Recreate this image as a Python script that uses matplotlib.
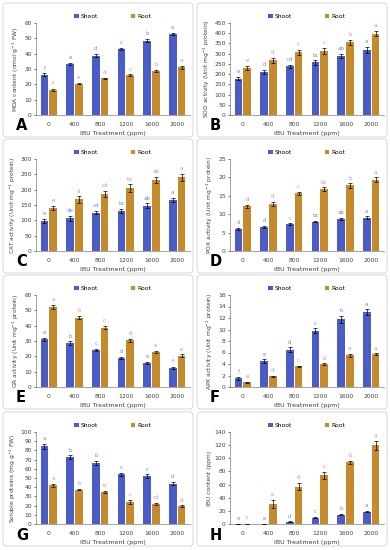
import numpy as np
import matplotlib
matplotlib.use('Agg')
import matplotlib.pyplot as plt
from matplotlib.patches import FancyBboxPatch

treatments = ['0', '400', '800', '1200', '1600', '2000']

mda_shoot = [26.2, 33.2, 38.8, 43.2, 48.5, 53.0]
mda_root = [16.2, 20.5, 24.0, 26.0, 28.6, 31.0]
mda_shoot_err = [0.9, 0.6, 1.0, 0.5, 1.0, 0.8]
mda_root_err = [0.7, 0.6, 0.3, 0.5, 0.6, 1.1]
mda_shoot_let = ['f', 'e', 'd', 'c', 'b', 'a']
mda_root_let = ['f', 'e', 'd', 'c', 'b', 'a']

sod_shoot = [178, 210, 238, 257, 288, 318]
sod_root = [230, 267, 307, 313, 355, 398]
sod_shoot_err = [7, 9, 9, 10, 10, 14]
sod_root_err = [10, 12, 12, 14, 14, 12]
sod_shoot_let = ['e', 'd', 'cd', 'bc', 'ab', 'a']
sod_root_let = ['e', 'd', 'c', 'c', 'b', 'a']

cat_shoot = [97, 107, 125, 131, 147, 167]
cat_root = [140, 168, 186, 205, 232, 240]
cat_shoot_err = [7, 8, 5, 6, 8, 7]
cat_root_err = [6, 10, 10, 12, 10, 12]
cat_shoot_let = ['e', 'de', 'cd', 'bc', 'ab', 'a']
cat_root_let = ['e', 'd', 'cd', 'bc', 'ab', 'a']

pox_shoot = [6.0, 6.5, 7.3, 8.0, 8.6, 9.1]
pox_root = [12.2, 12.8, 15.7, 16.8, 17.8, 19.4]
pox_shoot_err = [0.2, 0.3, 0.2, 0.2, 0.3, 0.3]
pox_root_err = [0.4, 0.5, 0.4, 0.5, 0.6, 0.6]
pox_shoot_let = ['d', 'd', 'c', 'bc', 'ab', 'a']
pox_root_let = ['d', 'd', 'c', 'bc', 'b', 'a']

gr_shoot = [31.2, 28.5, 24.0, 18.7, 15.7, 12.5]
gr_root = [52.2, 45.2, 38.8, 30.6, 23.0, 20.5]
gr_shoot_err = [1.0, 1.2, 0.8, 0.7, 0.5, 0.5]
gr_root_err = [1.2, 1.0, 1.0, 1.0, 0.8, 0.7]
gr_shoot_let = ['a', 'b', 'c', 'd', 'e', 'f']
gr_root_let = ['a', 'b', 'c', 'd', 'e', 'e']

apx_shoot = [1.5, 4.5, 6.5, 9.8, 11.8, 13.0]
apx_root = [0.8, 1.9, 3.6, 4.0, 5.5, 5.7]
apx_shoot_err = [0.3, 0.3, 0.4, 0.4, 0.6, 0.5]
apx_root_err = [0.05, 0.1, 0.1, 0.1, 0.2, 0.15]
apx_shoot_let = ['f', 'e', 'd', 'c', 'b', 'a']
apx_root_let = ['e', 'd', 'c', 'b', 'a', 'a']

prot_shoot = [84.5, 72.5, 66.5, 54.0, 52.0, 44.0]
prot_root = [42.0, 37.5, 35.0, 24.0, 21.7, 19.5]
prot_shoot_err = [2.5, 2.0, 2.0, 1.5, 2.0, 1.5]
prot_root_err = [1.5, 1.0, 1.0, 2.0, 1.0, 0.7]
prot_shoot_let = ['a', 'b', 'b', 'c', 'c', 'd']
prot_root_let = ['a', 'b', 'b', 'c', 'cd', 'd']

ibu_shoot = [0.0, 0.5, 3.5, 9.5, 14.0, 19.0]
ibu_root = [0.0, 31.0, 57.0, 74.0, 94.0, 120.0]
ibu_shoot_err = [0.0, 0.2, 0.5, 0.8, 1.0, 1.2]
ibu_root_err = [0.0, 6.0, 6.0, 5.0, 2.0, 7.0]
ibu_shoot_let = ['e', 'e', 'd', 'c', 'b', 'a']
ibu_root_let = ['f', 'e', 'd', 'c', 'b', 'a']

SHOOT = '#4b5cc6'
ROOT = '#c58a2c'
SHOOT_TXT = '#6f8fd0'
ROOT_TXT = '#e08aa0'

panels = [
    ('A', mda_shoot, mda_root, mda_shoot_err, mda_root_err, mda_shoot_let, mda_root_let,
     'MDA content (nmol g$^{-1}$ FW)', 60, 10),
    ('B', sod_shoot, sod_root, sod_shoot_err, sod_root_err, sod_shoot_let, sod_root_let,
     'SOD activity (Unit mg$^{-1}$ protein)', 450, 50),
    ('C', cat_shoot, cat_root, cat_shoot_err, cat_root_err, cat_shoot_let, cat_root_let,
     'CAT activity (Unit mg$^{-1}$ protein)', 300, 50),
    ('D', pox_shoot, pox_root, pox_shoot_err, pox_root_err, pox_shoot_let, pox_root_let,
     'POX activity (Unit mg$^{-1}$ protein)', 25, 5),
    ('E', gr_shoot, gr_root, gr_shoot_err, gr_root_err, gr_shoot_let, gr_root_let,
     'GR activity (Unit mg$^{-1}$ protein)', 60, 10),
    ('F', apx_shoot, apx_root, apx_shoot_err, apx_root_err, apx_shoot_let, apx_root_let,
     'APX activity (Unit mg$^{-1}$ protein)', 16, 2),
    ('G', prot_shoot, prot_root, prot_shoot_err, prot_root_err, prot_shoot_let, prot_root_let,
     'Soluble proteins (mg g$^{-1}$ FW)', 100, 10),
    ('H', ibu_shoot, ibu_root, ibu_shoot_err, ibu_root_err, ibu_shoot_let, ibu_root_let,
     'IBU content (ppm)', 140, 20),
]

W, H = 390, 550
fig = plt.figure(figsize=(W / 100, H / 100), dpi=100)

# panel boxes in pixels: (left, top)
box_w, box_h = 190, 134
row_tops = [3, 139, 275, 412]
col_lefts = [3, 197]

for i, (lab, sh, rt, she, rte, shl, rtl, ylab, ymax, step) in enumerate(panels):
    r, c = divmod(i, 2)
    bx, by = col_lefts[c], row_tops[r]
    fig.patches.append(FancyBboxPatch(
        (bx / W, 1 - (by + box_h) / H), box_w / W, box_h / H,
        boxstyle='round,pad=0,rounding_size=0.008', transform=fig.transFigure,
        facecolor='white', edgecolor='#d0d0d0', linewidth=0.6, zorder=-1))

    ax_l = bx + 33
    ax_r = bx + 187
    ax_t = by + 20
    ax_b = by + 112
    ax = fig.add_axes([ax_l / W, 1 - ax_b / H, (ax_r - ax_l) / W, (ax_b - ax_t) / H])

    x = np.arange(len(treatments))
    bw = 0.3
    ax.bar(x - bw / 2 - 0.02, sh, bw, color=SHOOT, label='Shoot', zorder=2)
    ax.bar(x + bw / 2 + 0.02, rt, bw, color=ROOT, label='Root', zorder=2)
    ax.errorbar(x - bw / 2 - 0.02, sh, yerr=she, fmt='none', ecolor='black',
                elinewidth=0.5, capsize=1.2, capthick=0.5, zorder=3)
    ax.errorbar(x + bw / 2 + 0.02, rt, yerr=rte, fmt='none', ecolor='black',
                elinewidth=0.5, capsize=1.2, capthick=0.5, zorder=3)
    off = ymax * 0.03
    for k in range(len(treatments)):
        ax.text(x[k] - bw / 2 - 0.02, sh[k] + she[k] + off, shl[k], ha='center',
                va='bottom', fontsize=4, color=SHOOT_TXT)
        ax.text(x[k] + bw / 2 + 0.02, rt[k] + rte[k] + off, rtl[k], ha='center',
                va='bottom', fontsize=4, color=ROOT_TXT)

    ax.set_xlim(-0.5, len(treatments) - 0.5)
    ax.set_ylim(0, ymax)
    ax.set_yticks(np.arange(0, ymax + step / 2, step))
    ax.set_xticks(x)
    ax.set_xticklabels(treatments)
    ax.tick_params(labelsize=4.3, length=1.5, width=0.5, pad=1.5, colors='#404040')
    ax.tick_params(axis='x', length=0, pad=5)
    for s in ['top', 'right']:
        ax.spines[s].set_visible(False)
    for s in ['left', 'bottom']:
        ax.spines[s].set_linewidth(0.5)
        ax.spines[s].set_color('#7f7f7f')
    ax.set_ylabel(ylab, fontsize=4.3, labelpad=2, color='#404040')
    ax.set_xlabel('IBU Treatment (ppm)', fontsize=4.5, labelpad=3, color='#404040')

    leg = ax.legend(loc='lower center', bbox_to_anchor=(0.5, 1.0), ncol=2, frameon=False,
                    fontsize=4.3, handlelength=0.7, handleheight=0.7, columnspacing=5.5,
                    handletextpad=0.4, borderaxespad=0.2)
    fig.text((bx + 13) / W, 1 - (by + 123) / H, lab, fontsize=10.5, fontweight='bold',
             ha='left', va='center')

fig.savefig('out.png', dpi=100)
